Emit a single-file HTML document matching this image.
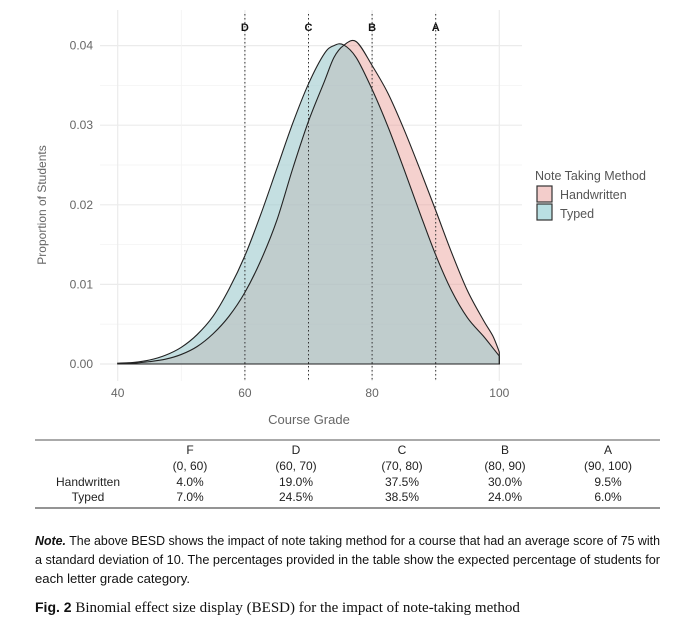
<!DOCTYPE html>
<html><head><meta charset="utf-8"><style>
body{margin:0;width:680px;height:628px;background:#fff;overflow:hidden;font-family:"Liberation Sans",sans-serif}
svg{position:absolute;left:0;top:0}
.tb{position:absolute;font-family:"Liberation Sans Narrow","Liberation Sans",sans-serif;font-size:12px;color:#222}
</style></head><body>
<svg width="680" height="628" id="svg">
<g id="grid"></g>
<g id="curves"></g>
<g id="cuts"></g>
<g id="axes"></g>
<text x="46" y="205" transform="rotate(-90 46 205)" text-anchor="middle" font-size="12" fill="#666">Proportion of Students</text>
<text x="309" y="424" text-anchor="middle" font-size="13" fill="#666">Course Grade</text>
<g>
<text x="535" y="180" font-size="12.5" fill="#555">Note Taking Method</text>
<rect x="537" y="186" width="15" height="16" fill="#f3cdcb" stroke="#333" stroke-width="1.2"/>
<rect x="537" y="204" width="15" height="16" fill="#b9dfe2" stroke="#333" stroke-width="1.2"/>
<text x="560" y="199" font-size="12.5" fill="#555">Handwritten</text>
<text x="560" y="218" font-size="12.5" fill="#555">Typed</text>
</g>
<g>
<line x1="35" y1="440" x2="660" y2="440" stroke="#555" stroke-width="1"/>
<line x1="35" y1="508" x2="660" y2="508" stroke="#555" stroke-width="1.3"/>
</g>
<g font-size="13" fill="#111">
<text x="35" y="545" textLength="625" lengthAdjust="spacingAndGlyphs"><tspan font-weight="bold" font-style="italic">Note.</tspan> The above BESD shows the impact of note taking method for a course that had an average score of 75 with</text>
<text x="35" y="564" textLength="625" lengthAdjust="spacingAndGlyphs">a standard deviation of 10.  The percentages provided in the table show the expected percentage of students for</text>
<text x="35" y="583" textLength="155" lengthAdjust="spacingAndGlyphs">each letter grade category.</text>
</g>
<text x="35" y="612" font-family="'Liberation Serif',serif" font-size="15" fill="#111"><tspan font-family="'Liberation Sans Narrow','Liberation Sans',sans-serif" font-weight="bold" font-size="14">Fig. 2</tspan>  Binomial effect size display (BESD) for the impact of note-taking method</text>
</svg>
<script>
const grades=[40,42.5,45,47.5,50,52.5,55,57.5,60,62.5,65,67.5,70,72.5,74,75.5,77.5,80,82.5,85,87.5,90,92.5,95,97.5,99,100];
const typed=[0.0001,0.0002,0.0005,0.0011,0.0021,0.0037,0.0060,0.0094,0.0136,0.0188,0.0245,0.0302,0.0352,0.0390,0.0400,0.0401,0.0385,0.0345,0.0298,0.0245,0.0190,0.0137,0.0092,0.0058,0.0035,0.0020,0.0010];
const handwritten=[0.0000,0.0001,0.0003,0.0006,0.0012,0.0022,0.0038,0.0060,0.0090,0.0130,0.0180,0.0245,0.0305,0.0355,0.0385,0.0400,0.0405,0.0375,0.0340,0.0295,0.0245,0.0193,0.0140,0.0092,0.0055,0.0035,0.0015];
const xTicks=[40,60,80,100];
const xMinor=[50,70,90];
const yTicks=[0,0.01,0.02,0.03,0.04];
const yTickLabels=["0.00","0.01","0.02","0.03","0.04"];
const cutoffs=[60,70,80,90];
const cutoffLabels=["D","C","B","A"];
const tableCols=["F","D","C","B","A"];
const tableRanges=["(0, 60)","(60, 70)","(70, 80)","(80, 90)","(90, 100)"];
const handPct=["4.0%","19.0%","37.5%","30.0%","9.5%"];
const typedPct=["7.0%","24.5%","38.5%","24.0%","6.0%"];

const X=v=>117.7+(v-40)*6.36;
const Y=v=>364-v*7960;
const NS="http://www.w3.org/2000/svg";
function mk(parent,tag,attrs){const e=document.createElementNS(NS,tag);for(const k in attrs)e.setAttribute(k,attrs[k]);document.getElementById(parent).appendChild(e);return e;}
yTicks.forEach((t,i)=>{const l=mk('grid','line',{x1:100,x2:522,y1:Y(t),y2:Y(t),stroke:'#ebebeb','stroke-width':1.2});


if(i<yTicks.length-1){const m=mk('grid','line',{x1:100,x2:522,y1:Y(t+0.005),y2:Y(t+0.005),stroke:'#f3f3f3','stroke-width':0.8});

}
const tx=mk('axes','text',{x:93,y:Y(t)+4,'text-anchor':'end','font-size':12,fill:'#666'});tx.textContent=yTickLabels[i];

});
xTicks.forEach(t=>{const l=mk('grid','line',{x1:X(t),x2:X(t),y1:10,y2:381,stroke:'#ebebeb','stroke-width':1.2});


const tx=mk('axes','text',{x:X(t),y:397,'text-anchor':'middle','font-size':12,fill:'#666'});tx.textContent=t;

});
xMinor.forEach(t=>{const l=mk('grid','line',{x1:X(t),x2:X(t),y1:10,y2:381,stroke:'#f3f3f3','stroke-width':0.8});

});
function curve(vals){const p=grades.map((g,i)=>[X(g),Y(vals[i])]);let d=`M${p[0][0]},${p[0][1]}`;
for(let i=0;i<p.length-1;i++){const p0=p[Math.max(i-1,0)],p1=p[i],p2=p[i+1],p3=p[Math.min(i+2,p.length-1)];
d+=` C${p1[0]+(p2[0]-p0[0])/6},${p1[1]+(p2[1]-p0[1])/6} ${p2[0]-(p3[0]-p1[0])/6},${p2[1]-(p3[1]-p1[1])/6} ${p2[0]},${p2[1]}`;}
return d;}
function area(vals){return `M${X(grades[0])},${Y(0)} L`+curve(vals).slice(1)+` L${X(grades[grades.length-1])},${Y(0)} Z`;}
const h=mk('curves','path',{d:area(handwritten),fill:'#E89893','fill-opacity':0.45,stroke:'none'});


const t=mk('curves','path',{d:area(typed),fill:'#9CC9CD','fill-opacity':0.6,stroke:'none'});


const ho=mk('curves','path',{d:area(handwritten),fill:'none',stroke:'#222','stroke-width':1.1});


const to=mk('curves','path',{d:area(typed),fill:'none',stroke:'#222','stroke-width':1.1});


cutoffs.forEach((c,i)=>{const l=mk('cuts','line',{x1:X(c),x2:X(c),y1:14,y2:381,stroke:'#333','stroke-width':1,'stroke-dasharray':'1.5 2.5'});


const tx=mk('cuts','text',{x:X(c),y:31,'text-anchor':'middle','font-size':11,'font-weight':'bold',fill:'#111'});tx.textContent=cutoffLabels[i];

});
const colX=[190,296,402,505,608];
const rows=[[null,tableCols,450],[null,tableRanges,466],["Handwritten",handPct,482],["Typed",typedPct,497]];
rows.forEach(r=>{if(r[0]){const d=document.createElement('div');d.className='tb';d.textContent=r[0];d.style.cssText+=`;left:38px;width:100px;text-align:center;top:${r[2]-7}px;white-space:nowrap`;


document.body.appendChild(d);}
r[1].forEach((v,i)=>{const d=document.createElement('div');d.textContent=v;d.className='tb';d.style.cssText+=`;left:${colX[i]-50}px;width:100px;text-align:center;top:${r[2]-7}px`;


document.body.appendChild(d);});});
</script>
</body></html>
